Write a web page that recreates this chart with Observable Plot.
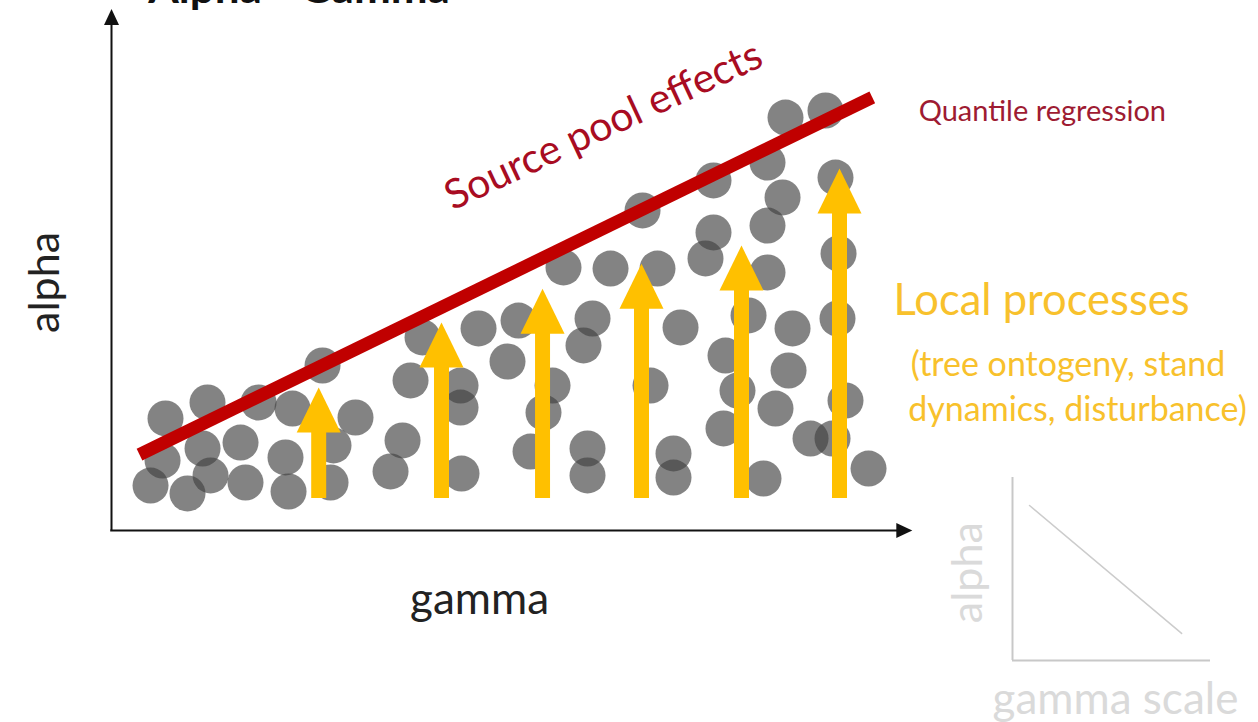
<!DOCTYPE html>
<html><head><meta charset="utf-8">
<script src="https://cdn.jsdelivr.net/npm/d3@7"></script>
<script src="https://cdn.jsdelivr.net/npm/@observablehq/plot@0.6"></script>
<style>
html,body{margin:0;padding:0;background:#fff;overflow:hidden}
#wrap{position:relative;width:1258px;height:722px;overflow:hidden}
#wrap svg{position:absolute;overflow:visible}
</style></head><body><div id="wrap"></div>
<script>
// Sites: gamma (x) and alpha (y), conceptual units 0-100
const siteGamma = [6.75,12.0,18.38,22.63,26.38,30.5,6.38,11.38,16.13,12.38,4.88,9.5,16.75,21.75,22.13,27.75,27.38,
  37.38,38.88,36.38,34.88,43.63,43.63,43.75,45.88,50.88,49.5,52.38,54.0,55.13,59.0,60.13,56.5,62.38,68.25,66.38,71.13,
  59.5,59.5,67.38,70.25,70.25,74.25,75.25,75.25,82.0,84.25,89.25,90.5,83.88,82.0,82.0,79.63,76.75,78.25,76.5,81.5,
  85.13,84.63,83.0,87.38,90.13,90.88,90.75,91.75,94.63];
const siteAlpha = [21.54,24.62,24.62,23.46,31.73,21.73,13.46,15.77,16.92,10.58,8.65,7.12,9.23,14.04,7.5,16.35,9.23,
  28.85,37.12,17.31,11.35,27.88,23.65,10.96,38.85,40.38,32.5,15.19,22.69,27.88,35.58,40.77,50.58,50.38,50.38,61.54,39.04,
  15.77,10.58,27.88,14.81,10.19,52.31,57.31,67.31,70.77,79.42,80.77,67.88,64.04,58.65,49.62,41.35,33.65,26.92,19.62,10.0,
  38.85,30.77,23.46,17.69,17.69,53.27,40.77,25.0,11.92];

// Quantile regression line (upper boundary)
const qrGamma = [3.5, 95.1];
const qrAlpha = [14.6, 83.3];

// Local-process arrows
const arrowGamma = [25.9, 41.25, 53.88, 66.25, 78.75, 91.0];
const arrowTop = [27.5, 40.0, 46.5, 51.3, 54.8, 69.6];
const arrowBase = [6.15, 6.15, 6.15, 6.15, 6.15, 6.15];

// Inset: alpha vs gamma scale
const insetGamma = [0.086, 0.854];
const insetAlpha = [0.847, 0.148];

const sites = siteGamma.map((g, i) => ({gamma: g, alpha: siteAlpha[i]}));
const qr = qrGamma.map((g, i) => ({gamma: g, alpha: qrAlpha[i]}));
const arrows = arrowGamma.map((g, i) => ({gamma: g, top: arrowTop[i], base: arrowBase[i]}));
const inset = insetGamma.map((g, i) => ({gamma: g, alpha: insetAlpha[i]}));

const arrowHead = {draw(ctx) { ctx.moveTo(0, 0); ctx.lineTo(-22, 45); ctx.lineTo(22, 45); ctx.closePath(); }};
const axisHead = {draw(ctx) { ctx.moveTo(0, 0); ctx.lineTo(-7.5, 16); ctx.lineTo(7.5, 16); ctx.closePath(); }};

const font = "Lato, 'Open Sans', sans-serif";
const yellow = "#FFC000";
const textYellow = "#F8C12C";

const main = Plot.plot({
  width: 1258, height: 722,
  marginLeft: 111, marginRight: 347, marginTop: 10, marginBottom: 192,
  x: {domain: [0, 100], axis: null},
  y: {domain: [0, 100], axis: null},
  style: {fontFamily: font, background: "white", overflow: "visible"},
  marks: [
    Plot.dot(sites, {x: "gamma", y: "alpha", r: 18, fill: "#404040", fillOpacity: 0.65, stroke: "none"}),
    Plot.line(qr, {x: "gamma", y: "alpha", stroke: "#C00000", strokeWidth: 13, strokeLinecap: "butt"}),
    Plot.ruleX(arrows, {x: "gamma", y1: "base", y2: d => d.top - 5, stroke: yellow, strokeWidth: 15, strokeLinecap: "butt"}),
    Plot.dot(arrows, {x: "gamma", y: "top", symbol: arrowHead, fill: yellow, stroke: "none"}),
    Plot.ruleX([0], {y1: 0, y2: 98.5, stroke: "#111", strokeWidth: 2}),
    Plot.ruleY([0], {x1: -0.1, x2: 98.5, stroke: "#111", strokeWidth: 2}),
    Plot.dot([{x: 0, y: 100.3}], {x: "x", y: "y", symbol: axisHead, fill: "#111", stroke: "none"}),
    Plot.dot([{x: 100.1, y: 0}], {x: "x", y: "y", symbol: axisHead, rotate: 90, fill: "#111", stroke: "none"}),
    Plot.text(["alpha"], {x: -8.25, y: 47.7, rotate: -90, fontSize: 43, fill: "#222"}),
    Plot.text(["gamma"], {x: 46, y: -13.3, fontSize: 44, fill: "#222"}),
    Plot.text(["Alpha - Gamma"], {x: 4.6, y: 101.4, textAnchor: "start", lineAnchor: "bottom", fontSize: 44, fontWeight: "bold", fill: "#111"}),
    Plot.text(["Source pool effects"], {x: 61.5, y: 77.8, rotate: -25, fontSize: 41, fill: "#A80C22"}),
    Plot.text(["Quantile regression"], {x: 100.9, y: 80.6, textAnchor: "start", fontSize: 29, fill: "#9E1B32"}),
    Plot.text(["Local processes"], {x: 97.75, y: 44.2, textAnchor: "start", fontSize: 43.5, fill: textYellow}),
    Plot.text(["(tree ontogeny, stand"], {x: 99.9, y: 31.9, textAnchor: "start", fontSize: 34, fill: textYellow}),
    Plot.text(["dynamics, disturbance)"], {x: 99.6, y: 23.1, textAnchor: "start", fontSize: 34, fill: textYellow})
  ]
});
main.style.left = "0px"; main.style.top = "0px";

const insetPlot = Plot.plot({
  width: 318, height: 262,
  marginLeft: 72, marginRight: 48, marginTop: 17, marginBottom: 62,
  x: {domain: [0, 1], axis: null},
  y: {domain: [0, 1], axis: null},
  style: {fontFamily: font, background: "transparent", overflow: "visible"},
  marks: [
    Plot.ruleX([0], {y1: 0, y2: 1, stroke: "#c8c8c8", strokeWidth: 2}),
    Plot.ruleY([0], {x1: 0, x2: 1, stroke: "#c8c8c8", strokeWidth: 2}),
    Plot.line(inset, {x: "gamma", y: "alpha", stroke: "#cccccc", strokeWidth: 1.5}),
    Plot.text(["alpha"], {x: -0.222, y: 0.48, rotate: -90, fontSize: 43, fill: "#dadada"}),
    Plot.text(["gamma scale"], {x: 0.52, y: -0.215, fontSize: 44, fill: "#dadada"})
  ]
});
insetPlot.style.left = "940px"; insetPlot.style.top = "460px";

const wrap = document.getElementById("wrap");
wrap.appendChild(main);
wrap.appendChild(insetPlot);
</script>
</body></html>
